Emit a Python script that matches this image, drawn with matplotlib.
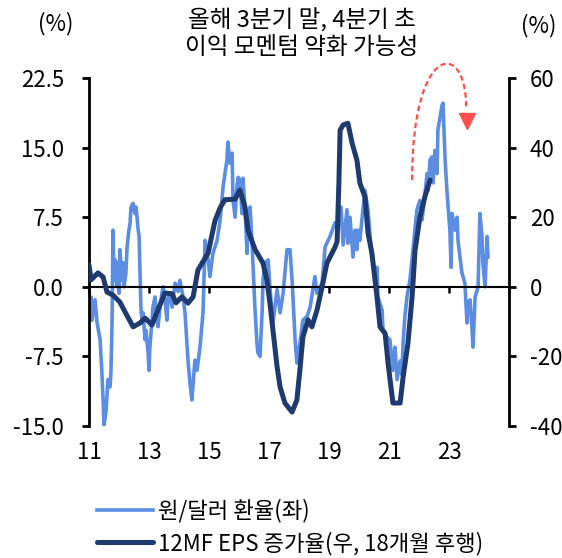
import matplotlib
matplotlib.use("Agg")
import matplotlib.pyplot as plt
from matplotlib.path import Path
from matplotlib.patches import PathPatch

plt.rcParams['font.family'] = ['Noto Sans CJK KR', 'DejaVu Sans']
plt.rcParams['font.weight'] = 'light'

# 원/달러 환율 YoY (%), 좌축 — x는 연도(두 자리, 소수)
fx_year = [11.00, 11.03, 11.07, 11.10, 11.20, 11.27, 11.37, 11.43, 11.47, 11.50,
           11.57, 11.63, 11.70, 11.73, 11.77, 11.80, 11.83, 11.87, 11.93, 11.97,
           12.00, 12.03, 12.10, 12.13, 12.17, 12.23, 12.27, 12.33, 12.37, 12.40,
           12.47, 12.53, 12.57, 12.63, 12.67, 12.70, 12.73, 12.77, 12.80, 12.87,
           12.90, 12.97, 13.00, 13.03, 13.10, 13.13, 13.20, 13.27, 13.30, 13.37,
           13.43, 13.47, 13.53, 13.60, 13.63, 13.70, 13.77, 13.87, 13.97, 14.03,
           14.13, 14.20, 14.30, 14.37, 14.43, 14.53, 14.60, 14.70, 14.80, 14.87,
           14.97, 15.03, 15.13, 15.27, 15.37, 15.47, 15.60, 15.63, 15.70, 15.77,
           15.80, 15.87, 15.93, 15.97, 16.03, 16.10, 16.13, 16.20, 16.27, 16.30,
           16.37, 16.43, 16.47, 16.53, 16.60, 16.63, 16.70, 16.77, 16.80, 16.87,
           16.97, 17.03, 17.13, 17.27, 17.37, 17.47, 17.60, 17.70, 17.77, 17.87,
           17.93, 18.03, 18.13, 18.27, 18.37, 18.53, 18.60, 18.77, 18.87, 19.03,
           19.20, 19.30, 19.40, 19.47, 19.60, 19.63, 19.70, 19.80, 19.87, 19.93,
           19.97, 20.03, 20.13, 20.20, 20.30, 20.43, 20.53, 20.60, 20.63, 20.77,
           20.80, 20.93, 21.03, 21.13, 21.20, 21.27, 21.37, 21.43, 21.47, 21.53,
           21.60, 21.70, 21.80, 21.93, 22.03, 22.10, 22.13, 22.27, 22.30, 22.37,
           22.43, 22.47, 22.53, 22.60, 22.63, 22.77, 22.80, 22.87, 22.93, 23.03,
           23.07, 23.10, 23.20, 23.27, 23.30, 23.43, 23.53, 23.60, 23.63, 23.70,
           23.77, 23.80, 23.87, 23.97, 24.03, 24.10, 24.13, 24.20, 24.27, 24.30]
fx_yoy = [-0.7, -2.8, -1.1, -3.6, -1.4, -3.9, -5.7, -9.3, -12.2, -15.0,
          -13.3, -10.0, -10.8, -9.3, -3.6, 6.1, 0.7, 2.9, 0.0, 2.6,
          -0.7, 4.0, 0.7, 2.6, 0.0, 1.5, 4.3, 6.1, 6.9, 8.6,
          9.0, 7.9, 8.6, 6.4, 5.4, 1.5, -2.2, -3.9, -2.8, -5.7,
          -4.7, -7.1, -9.0, -6.5, -3.6, -2.2, -1.1, -3.6, -4.3, -2.2,
          -0.7, 0.0, -1.4, -3.6, -1.4, -0.7, -2.2, 0.4, -0.5, 0.7,
          -1.0, -2.8, -7.9, -10.5, -12.2, -7.9, -9.0, -6.5, -2.8, 5.0,
          2.9, 1.1, 3.6, 5.0, 7.2, 10.8, 13.7, 15.6, 13.3, 14.4,
          9.3, 7.5, 10.8, 11.8, 11.5, 7.9, 11.7, 8.6, 3.6, 7.9,
          8.6, 5.0, 2.1, -2.2, -6.1, -7.1, -7.5, -2.8, 0.7, 2.6,
          2.9, 0.0, -3.9, -0.3, -2.8, -0.7, 4.0, 4.0, 0.7, -5.7,
          -8.2, -6.1, -3.6, -3.2, -2.2, 1.1, -0.7, 0.4, 4.3, 5.4,
          6.9, 6.5, 8.6, 4.5, 8.3, 4.7, 7.5, 3.2, 6.1, 4.0,
          6.1, 5.0, 8.3, 10.4, 8.3, 3.2, 1.1, 2.1, -1.1, -2.5,
          -4.7, -5.4, -5.7, -9.0, -6.5, -10.0, -8.0, -9.5, -6.0, -3.2,
          -1.1, 0.8, 4.0, 8.3, 9.3, 7.2, 8.0, 12.2, 10.4, 13.7,
          14.0, 11.2, 14.7, 12.2, 16.9, 19.6, 19.8, 13.7, 10.4, 6.1,
          2.1, 7.9, 6.1, 7.5, 5.0, 1.5, 0.4, -3.9, -1.8, -1.4,
          -4.7, -6.5, -1.1, 0.0, 7.9, 5.4, 2.6, 0.0, 5.4, 3.2]

# 12MF EPS 증가율 (%), 우축, 18개월 후행
eps_year = [11.00, 11.07, 11.30, 11.47, 11.60, 11.80, 12.03, 12.20, 12.47, 12.70,
            12.87, 13.10, 13.27, 13.53, 13.77, 13.90, 14.10, 14.30, 14.47, 14.63,
            14.97, 15.20, 15.37, 15.53, 15.87, 16.03, 16.20, 16.30, 16.53, 16.80,
            16.93, 17.03, 17.13, 17.27, 17.37, 17.53, 17.77, 17.93, 18.03, 18.13,
            18.30, 18.43, 18.60, 18.77, 18.93, 19.20, 19.27, 19.33, 19.37, 19.47,
            19.63, 19.77, 19.93, 20.03, 20.20, 20.30, 20.43, 20.60, 20.70, 20.87,
            20.97, 21.13, 21.37, 21.47, 21.63, 21.77, 21.87, 22.03, 22.20, 22.37]
eps_growth = [6.3, 2.0, 4.0, 2.8, -1.5, -2.4, -4.4, -7.2, -11.5, -10.4,
              -9.0, -11.0, -7.2, -1.8, -2.0, -4.6, -2.9, -4.7, -2.9, 4.8,
              9.7, 19.0, 22.7, 25.0, 25.2, 27.8, 22.9, 16.3, 10.8, 6.8,
              2.0, -4.7, -12.3, -23.0, -28.8, -33.4, -36.0, -32.5, -23.9, -14.4,
              -9.5, -11.5, -6.7, 0.0, 6.8, 11.4, 13.0, 30.0, 45.0, 46.5,
              47.0, 41.3, 36.4, 29.8, 25.8, 15.5, 9.7, -2.9, -11.5, -13.4,
              -22.0, -33.4, -33.4, -26.0, -16.3, -2.9, 10.6, 20.0, 26.0, 30.7]

left_ticks = [-15, -7.5, 0, 7.5, 15, 22.5]
left_labels = ['-15.0', '-7.5', '0.0', '7.5', '15.0', '22.5']
right_ticks = [-40, -20, 0, 20, 40, 60]
right_labels = ['-40', '-20', '0', '20', '40', '60']
x_ticks = [11, 13, 15, 17, 19, 21, 23]
x_labels = ['11', '13', '15', '17', '19', '21', '23']

light_blue = '#5b8de2'
navy = '#1f3a6e'
red = '#ff4f4f'
fs = 16

fig = plt.figure(figsize=(5.62, 5.58), dpi=100)
ax = fig.add_axes([89 / 562, 1 - 426 / 558, 420 / 562, 348 / 558])
ax2 = ax.twinx()

l1, = ax.plot(fx_year, fx_yoy, color=light_blue, lw=2.6, solid_joinstyle='round',
              label='원/달러 환율(좌)', zorder=2)
l2, = ax2.plot(eps_year, eps_growth, color=navy, lw=3.6, solid_joinstyle='round',
               solid_capstyle='round', label='12MF EPS 증가율(우, 18개월 후행)', zorder=3)

ax.set_xlim(11, 25)
ax.set_ylim(-15, 22.5)
ax2.set_ylim(-40, 60)

# 0선이 x축 역할
for s in ['top', 'right']:
    ax.spines[s].set_visible(False)
ax.spines['bottom'].set_position(('data', 0))
ax.spines['bottom'].set_linewidth(1.5)
ax.spines['left'].set_linewidth(2.0)
ax.set_xticks([11, 13, 15, 17, 19, 21, 23, 25])
ax.tick_params(axis='x', direction='out', length=4, width=1.8, labelbottom=False)
ax.set_yticks(left_ticks, left_labels)
ax.tick_params(axis='y', direction='out', length=5, width=2.0, pad=13, labelsize=fs)

for s in ['top', 'left', 'bottom']:
    ax2.spines[s].set_visible(False)
ax2.spines['right'].set_linewidth(2.0)
ax2.set_yticks(right_ticks, right_labels)
ax2.tick_params(axis='y', direction='out', length=5, width=2.0, pad=10, labelsize=fs)

sec = ax.secondary_xaxis('bottom')
sec.spines['bottom'].set_visible(False)
sec.set_xticks(x_ticks, x_labels)
sec.tick_params(length=0, pad=11, labelsize=fs)

# 이익 모멘텀 꺾임 화살표 (우축 좌표)
arc = Path([(21.77, 30.7), (21.77, 71.0), (23.63, 71.0), (23.57, 51.0)],
           [Path.MOVETO, Path.CURVE4, Path.CURVE4, Path.CURVE4])
ax2.add_patch(PathPatch(arc, fill=False, edgecolor=red, lw=1.6,
                        linestyle=(0, (2.4, 1.5)), transform=ax2.transData,
                        clip_on=False, zorder=4))
ax2.plot([23.6], [47.6], marker='v', ms=11, color=red, clip_on=False, zorder=4)

fig.text(0.537, 1 - 8 / 558, '올해 3분기 말, 4분기 초\n이익 모멘텀 약화 가능성',
         ha='center', va='top', fontsize=17, linespacing=1.2)
fig.text(56 / 562, 1 - 24 / 558, '(%)', ha='center', va='center', fontsize=fs)
fig.text(539 / 562, 1 - 26 / 558, '(%)', ha='center', va='center', fontsize=fs)

fig.legend(handles=[l1, l2], loc='upper left', bbox_to_anchor=(97 / 562, 1 - 499 / 558),
           frameon=False, fontsize=fs, handlelength=2.5, handletextpad=0.25,
           labelspacing=0.4, borderpad=0, borderaxespad=0)

fig.savefig('out.png', dpi=100)
